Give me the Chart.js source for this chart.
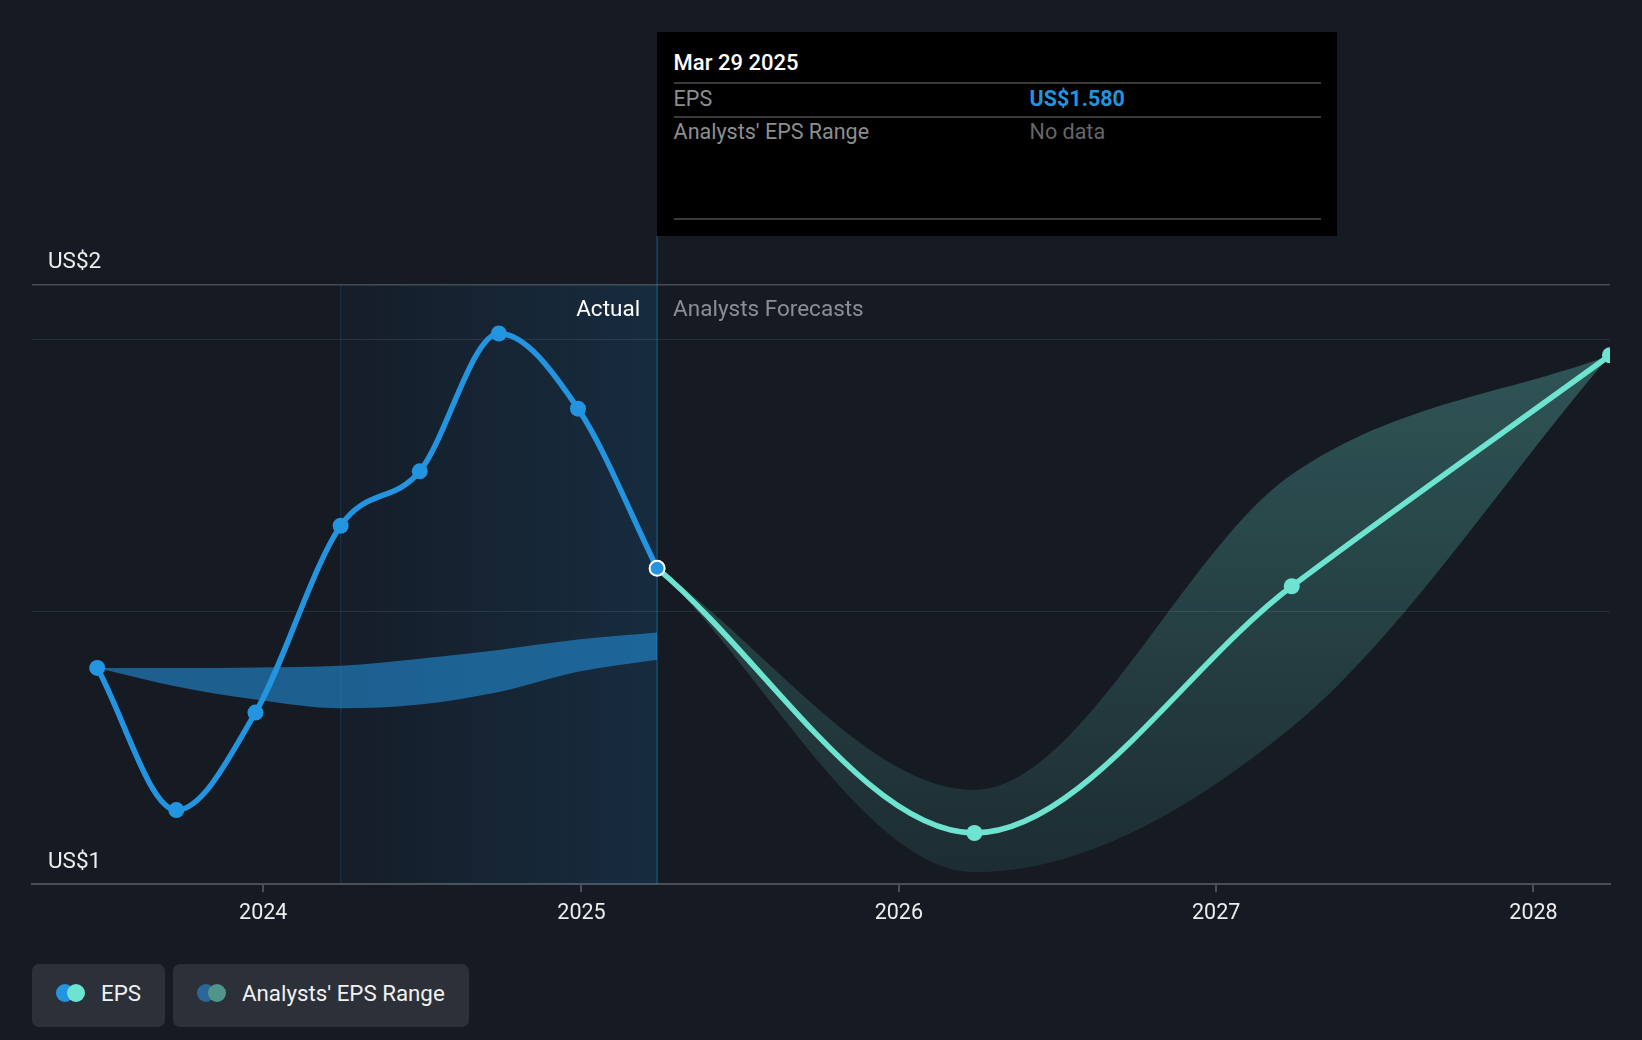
<!DOCTYPE html>
<html>
<head>
<meta charset="utf-8">
<script src="https://cdn.jsdelivr.net/npm/chart.js@4.4.1/dist/chart.umd.min.js"></script>
<style>
  html, body { margin: 0; padding: 0; background: #151a23; }
  body { width: 1642px; height: 1040px; position: relative; overflow: hidden; font-family: Roboto, sans-serif; }
  #wrap { position: absolute; left: 0; top: 0; width: 1642px; height: 936px; }
  #tip { position: absolute; top: 32px; left: 656px; width: 680px; height: 204px; background: #000; color: #fff; font-size: 21.5px; }
  #tip .ttl { position: absolute; left: 17px; top: 19px; line-height: 24px; font-weight: 500; font-size: 22px; }
  #tip .sep { position: absolute; left: 17px; width: 647px; height: 2px; background: #3a3a3a; }
  #tip .row { position: absolute; left: 17px; width: 647px; line-height: 24px; color: #8e8e8e; }
  #tip .row span.v { position: absolute; left: 356px; }
  #tip .val { color: #2394df; font-weight: 700; }
  #tip .nd { color: #666; }
  #legend { position: absolute; left: 32px; top: 964px; display: flex; gap: 8px; }
  .item { height: 57px; padding: 0 24px 6px 24px; display: flex; align-items: center; gap: 16px; background: #2b3039; border-radius: 7px; color: #f2f2f2; font-size: 22.3px; }
  .dots { position: relative; width: 29px; height: 18px; }
  .dots i { position: absolute; top: 0; width: 18px; height: 18px; border-radius: 50%; }
  .dots i:first-child { left: 0; }
  .dots i:last-child { left: 11px; }
</style>
</head>
<body>
<div id="wrap"><canvas id="epsChart"></canvas></div>
<div id="tip">
  <div class="ttl" id="tipTitle"></div>
  <div class="sep" style="top:50px"></div>
  <div class="row" style="top:55px">EPS<span class="v val" id="tipVal"></span></div>
  <div class="sep" style="top:84px"></div>
  <div class="row" style="top:88px">Analysts' EPS Range<span class="v nd">No data</span></div>
  <div class="sep" style="top:186px"></div>
</div>
<div id="legend">
  <div class="item"><span class="dots"><i style="background:#2394df"></i><i style="background:#6de3d0"></i></span>EPS</div>
  <div class="item"><span class="dots"><i style="background:#2a6898"></i><i style="background:#4f9589"></i></span>Analysts' EPS Range</div>
</div>
<script>
// reported EPS (fiscal quarter ends, trailing)
const actualDates = ['2023-06-24', '2023-09-23', '2023-12-23', '2024-03-30', '2024-06-29', '2024-09-28', '2024-12-28', '2025-03-29'];
const actualEps = [1.397, 1.136, 1.315, 1.658, 1.758, 2.011, 1.873, 1.580];
const pastRangeHigh = [1.397, 1.397, 1.398, 1.401, 1.414, 1.430, 1.449, 1.462];
const pastRangeLow = [1.397, 1.363, 1.339, 1.323, 1.330, 1.353, 1.390, 1.412];

// analysts forecasts
const forecastDates = ['2025-03-29', '2026-03-29', '2027-03-29', '2028-03-29'];
const forecastEps = [1.580, 1.094, 1.547, 1.971];
const forecastHigh = [1.580, 1.173, 1.752, 1.971];
const forecastLow = [1.580, 1.022, 1.288, 1.971];

const yearTicks = [2024, 2025, 2026, 2027, 2028];
const yGrid = [1, 1.5, 2];
const yMin = 1, yMax = 2.1;
const xStart = '2023-04-10';

const BLUE = '#2394df';
const TEAL = '#6de3d0';
const TIP_TOP = 32, TIP_H = 204;

const pts = (dates, vals) => dates.map((d, i) => ({ x: Date.parse(d), y: vals[i] }));
const lastIdx = actualDates.length - 1;
const months = ['Jan','Feb','Mar','Apr','May','Jun','Jul','Aug','Sep','Oct','Nov','Dec'];
const hoverDate = new Date(Date.parse(actualDates[lastIdx]));
document.getElementById('tipTitle').textContent =
  months[hoverDate.getUTCMonth()] + ' ' + hoverDate.getUTCDate() + ' ' + hoverDate.getUTCFullYear();
document.getElementById('tipVal').textContent = 'US$' + actualEps[lastIdx].toFixed(3);

function tealGradient(ctx) {
  const ca = ctx.chart.chartArea;
  if (!ca) return 'rgba(109,227,208,0.2)';
  const g = ctx.chart.ctx.createLinearGradient(0, ca.top, 0, ca.bottom);
  g.addColorStop(0, 'rgba(109,227,208,0.32)');
  g.addColorStop(1, 'rgba(109,227,208,0.09)');
  return g;
}

const decor = {
  id: 'decor',
  beforeDatasetsDraw(chart) {
    const { ctx, chartArea: ca, scales: { x } } = chart;
    const x0 = x.getPixelForValue(Date.parse(actualDates[3]));
    const x1 = x.getPixelForValue(Date.parse(actualDates[lastIdx]));
    ctx.save();
    const g = ctx.createLinearGradient(x0, 0, x1, 0);
    g.addColorStop(0, 'rgba(35,148,223,0.03)');
    g.addColorStop(1, 'rgba(35,148,223,0.15)');
    ctx.fillStyle = g;
    ctx.fillRect(x0, ca.top, x1 - x0, ca.bottom - ca.top);
    ctx.strokeStyle = 'rgba(35,148,223,0.16)';
    ctx.lineWidth = 1.5;
    ctx.beginPath();
    ctx.moveTo(x0, ca.top);
    ctx.lineTo(x0, ca.bottom);
    ctx.stroke();
    ctx.strokeStyle = 'rgba(35,148,223,0.35)';
    ctx.beginPath();
    ctx.moveTo(x1, TIP_TOP + TIP_H);
    ctx.lineTo(x1, ca.bottom);
    ctx.stroke();
    ctx.restore();
  },
  afterDraw(chart) {
    const { ctx, chartArea: ca, scales: { x, y } } = chart;
    const x1 = x.getPixelForValue(Date.parse(actualDates[lastIdx]));
    ctx.save();
    ctx.font = '22.5px Roboto';
    ctx.fillStyle = '#eeeeee';
    ctx.textBaseline = 'alphabetic';
    ctx.fillText('US$' + Math.round(y.max), 48, ca.top - 17);
    ctx.fillText('US$' + Math.round(y.min), 48, ca.bottom - 16);
    ctx.textBaseline = 'middle';
    ctx.textAlign = 'right';
    ctx.fillStyle = '#ffffff';
    ctx.fillText('Actual', x1 - 17, 310);
    ctx.textAlign = 'left';
    ctx.fillStyle = '#8a8e95';
    ctx.fillText('Analysts Forecasts', x1 + 16, 310);
    ctx.restore();
    document.getElementById('tip').style.left = (x1 - 0.5) + 'px';
  }
};

const lineCommon = {
  borderWidth: 5.5,
  cubicInterpolationMode: 'monotone',
  pointRadius: 8,
  pointHoverRadius: 8,
  pointBorderWidth: 0,
  fill: false
};
const bandCommon = {
  borderWidth: 0,
  pointRadius: 0,
  pointHoverRadius: 0,
  cubicInterpolationMode: 'monotone'
};

new Chart(document.getElementById('epsChart'), {
  type: 'line',
  data: {
    datasets: [
      Object.assign({}, lineCommon, {
        label: 'EPS',
        data: pts(actualDates, actualEps),
        borderColor: BLUE,
        pointBackgroundColor: BLUE,
        pointRadius: (c) => c.dataIndex === lastIdx ? 7.5 : 8,
        pointBorderColor: (c) => c.dataIndex === lastIdx ? '#ffffff' : BLUE,
        pointBorderWidth: (c) => c.dataIndex === lastIdx ? 2 : 0
      }),
      Object.assign({}, lineCommon, {
        label: 'EPS forecast',
        data: pts(forecastDates, forecastEps),
        borderColor: TEAL,
        pointBackgroundColor: TEAL,
        pointBorderColor: TEAL
      }),
      Object.assign({}, bandCommon, {
        label: 'Forecast high',
        data: pts(forecastDates, forecastHigh),
        backgroundColor: tealGradient,
        fill: '+1'
      }),
      Object.assign({}, bandCommon, {
        label: 'Forecast low',
        data: pts(forecastDates, forecastLow),
        fill: false
      }),
      Object.assign({}, bandCommon, {
        label: 'Past range high',
        data: pts(actualDates, pastRangeHigh),
        backgroundColor: 'rgba(35,148,223,0.57)',
        fill: '+1'
      }),
      Object.assign({}, bandCommon, {
        label: 'Past range low',
        data: pts(actualDates, pastRangeLow),
        fill: false
      })
    ]
  },
  options: {
    responsive: true,
    maintainAspectRatio: false,
    animation: false,
    events: [],
    layout: { padding: { left: 32, right: 32, top: 285, bottom: 0 } },
    plugins: {
      legend: { display: false },
      tooltip: { enabled: false }
    },
    scales: {
      x: {
        type: 'linear',
        min: Date.parse(xStart),
        max: Date.parse(forecastDates[forecastDates.length - 1]),
        afterBuildTicks: (s) => { s.ticks = yearTicks.map(yr => ({ value: Date.UTC(yr, 0, 1) })); },
        ticks: {
          autoSkip: false,
          maxRotation: 0,
          padding: 9,
          color: '#eeeeee',
          font: { family: 'Roboto', size: 21.5 },
          callback: (v) => new Date(v).getUTCFullYear()
        },
        grid: { drawOnChartArea: false, drawTicks: true, tickLength: 8, color: '#4a4f57', lineWidth: 2 },
        border: { display: true, color: '#4a4f57', width: 2 }
      },
      y: {
        min: yMin,
        max: yMax,
        afterBuildTicks: (s) => { s.ticks = yGrid.concat([yMax]).map(v => ({ value: v })); },
        ticks: { display: false },
        grid: {
          drawTicks: false,
          lineWidth: (c) => c.tick && c.tick.value === yMax ? 1.5 : 1,
          color: (c) => {
            if (!c.tick) return '#272d36';
            if (c.tick.value === yMax) return '#464b54';
            if (c.tick.value === yMin) return 'rgba(0,0,0,0)';
            return '#272d36';
          }
        },
        border: { display: false }
      }
    }
  },
  plugins: [decor]
});
</script>
</body>
</html>
